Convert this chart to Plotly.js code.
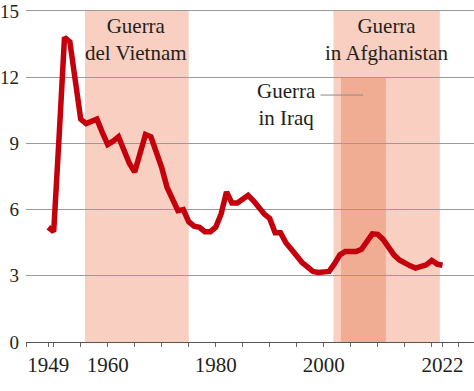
<!DOCTYPE html>
<html>
<head>
<meta charset="utf-8">
<script src="https://cdn.plot.ly/plotly-3.0.1.min.js"></script>
<style>html,body{margin:0;padding:0;background:#fff;}#chart{width:474px;height:391px;}</style>
</head>
<body>
<div id="chart"></div>
<script>
// Data
const years = [1949,1950,1951,1952,1953,1954,1955,1956,1957,1958,1959,1960,1961,1962,1963,1964,1965,1966,1967,1968,1969,1970,1971,1972,1973,1974,1975,1976,1977,1978,1979,1980,1981,1982,1983,1984,1985,1986,1987,1988,1989,1990,1991,1992,1993,1994,1995,1996,1997,1998,1999,2000,2001,2002,2003,2004,2005,2006,2007,2008,2009,2010,2011,2012,2013,2014,2015,2016,2017,2018,2019,2020,2021,2022];
const spending = [5.2,5.0,9.3,13.8,13.6,12.0,10.1,9.9,10.0,10.1,9.5,8.95,9.1,9.3,8.7,8.1,7.7,8.6,9.4,9.3,8.6,7.9,7.0,6.5,5.95,6.0,5.45,5.25,5.2,5.0,5.0,5.2,5.8,6.8,6.3,6.3,6.5,6.65,6.4,6.1,5.8,5.6,4.95,4.95,4.5,4.2,3.85,3.6,3.4,3.2,3.15,3.15,3.2,3.55,3.95,4.1,4.13,4.1,4.2,4.6,4.9,4.88,4.65,4.3,3.95,3.72,3.55,3.45,3.35,3.4,3.5,3.7,3.53,3.48];
const xTickVals = [1949,1960,1980,2000,2022];
const xTickText = ['1949','1960','1980','2000','2022'];
const yTickVals = [0,3,6,9,12,15];
const wars = ['Vietnam','Afghanistan','Iraq'];
const warStart = [1955.8,2001.8,2003.2];
const warEnd = [1975.0,2021.5,2011.5];
const warTop = [15,15,12];
const warColor = ['#f8cfc0','#f8cfc0','#f1ad93'];
const warLabels = ['Guerra<br>del Vietnam','Guerra<br>in Afghanistan','Guerra<br>in Iraq'];

const FONT = 'Liberation Serif, Times New Roman, serif';
const TXT = '#231f20';

const shapes = wars.map((w,i)=>({
  type:'rect', xref:'x', yref:'y', x0:warStart[i], x1:warEnd[i], y0:0, y1:warTop[i],
  fillcolor:warColor[i], line:{width:0}, layer:'below'
}));
// leader line for Iraq label
shapes.push({type:'line', xref:'x', yref:'y', x0:1999.4, x1:2007.3, y0:11.19, y1:11.19,
  line:{color:'#8a8a8a', width:1}});

const labelX = [1965.33, 2011.66, 1993.1];
const labelY = [13.73, 13.73, 10.74];
const annotations = warLabels.map((t,i)=>({
  xref:'x', yref:'y', x:labelX[i], y:labelY[i], text:t, showarrow:false,
  xanchor:'center', yanchor:'middle', align:'center',
  font:{family:FONT, size:21, color:TXT}
}));

const trace = {
  x: years, y: spending, type:'scatter', mode:'lines',
  line:{color:'#c4000c', width:5.5, shape:'linear'},
  hoverinfo:'skip'
};

const layout = {
  width:474, height:391,
  margin:{l:26, r:0, t:9, b:49},
  paper_bgcolor:'#fff', plot_bgcolor:'rgba(0,0,0,0)',
  showlegend:false,
  xaxis:{
    range:[1944.87,2027.83], tickmode:'array', tickvals:xTickVals, ticktext:xTickText,
    ticks:'outside', ticklen:4, tickcolor:'#666', tickwidth:1,
    minor:{tickmode:'linear', tick0:1950, dtick:5, ticks:'outside', ticklen:4, tickcolor:'#666', tickwidth:1, showgrid:false},
    showgrid:false, zeroline:false, showline:true, linecolor:'#555', linewidth:1,
    tickfont:{family:FONT, size:21, color:TXT}, ticklabeloverflow:'allow', fixedrange:true
  },
  yaxis:{
    range:[0,15.09], tickmode:'array', tickvals:yTickVals, ticks:'',
    showgrid:true, gridcolor:'#9a9a9a', gridwidth:1, zeroline:false, showline:false,
    tickfont:{family:FONT, size:19, color:TXT}, ticklabelstandoff:6,
    ticklabeloverflow:'allow', fixedrange:true
  },
  shapes: shapes,
  annotations: annotations
};

Plotly.newPlot('chart',[trace],layout,{displayModeBar:false, staticPlot:true});
</script>
</body>
</html>
